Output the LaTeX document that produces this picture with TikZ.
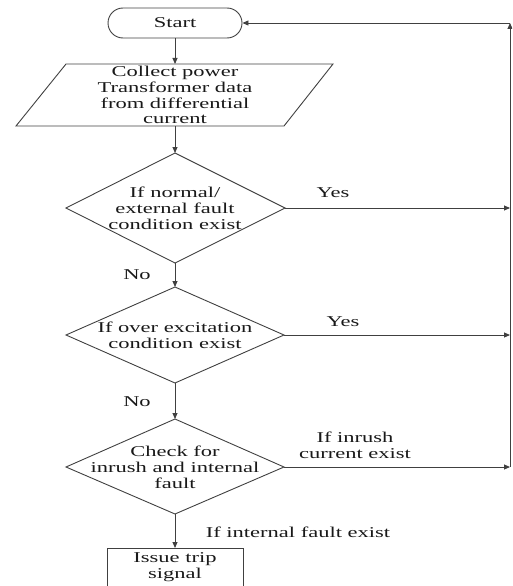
\documentclass[tikz,border=0pt]{standalone}
\usepackage{fontspec}
\setmainfont{Liberation Serif}[FakeStretch=1.5]
\usetikzlibrary{shapes.misc,arrows.meta}
\begin{document}
\begin{tikzpicture}[x=1pt,y=-1pt,
  line/.style={draw=black!75,line width=0.9pt},
  arr/.style={line,-{Triangle[length=6pt,width=5pt]}},
  txt/.style={font=\fontsize{15}{15.8}\selectfont,align=center,inner sep=0pt,text=black!90},
]
\useasboundingbox (0,0) rectangle (512,586);
\clip (0,0) rectangle (512,586);
% start
\node[line,rounded rectangle,minimum width=134pt,minimum height=30pt,txt] (start) at (175,23) {Start};
% parallelogram
\coordinate (ptl) at (66,64);
\coordinate (ptr) at (333,64);
\coordinate (pbr) at (284,126);
\coordinate (pbl) at (16,126);
\coordinate (pt) at (175,64);
\coordinate (pb) at (175,126);
\draw[line] (ptl)--(ptr)--(pbr)--(pbl)--cycle;
\node[txt] (collect) at (175,95) {Collect power\\Transformer data\\from differential\\current};
% diamond 1
\coordinate (d1t) at (175,153);
\coordinate (d1r) at (285,208);
\coordinate (d1b) at (175,263);
\coordinate (d1l) at (66,208);
\draw[line] (d1t)--(d1r)--(d1b)--(d1l)--cycle;
\node[txt] (q1) at (175,208) {If normal/\\external fault\\condition exist};
% diamond 2
\coordinate (d2t) at (175,287);
\coordinate (d2r) at (284,335);
\coordinate (d2b) at (175,383);
\coordinate (d2l) at (66,335);
\draw[line] (d2t)--(d2r)--(d2b)--(d2l)--cycle;
\node[txt] (q2) at (175,335) {If over excitation\\condition exist};
% diamond 3
\coordinate (d3t) at (175,419);
\coordinate (d3r) at (284,467);
\coordinate (d3b) at (175,514);
\coordinate (d3l) at (66,467);
\draw[line] (d3t)--(d3r)--(d3b)--(d3l)--cycle;
\node[txt] (q3) at (175,467) {Check for\\inrush and internal\\fault};
% issue box
\coordinate (ibl) at (107,600);
\coordinate (itl) at (107,548);
\coordinate (itr) at (243,548);
\coordinate (ibr) at (243,600);
\coordinate (it) at (175,548);
\draw[line] (ibl)--(itl)--(itr)--(ibr);
\node[txt] (issue) at (175,567) {Issue trip\\signal};
% right return line
\coordinate (r1) at (510,208);
\coordinate (r2) at (510,335);
\coordinate (r3) at (510,467);
\coordinate (rt) at (510,23);
% connectors
\draw[arr] (start.south) -- (pt);
\draw[arr] (pb) -- (d1t);
\draw[arr] (d1b) -- (d2t);
\draw[arr] (d2b) -- (d3t);
\draw[arr] (d3b) -- (it);
\draw[arr] (d1r) -- (r1);
\draw[arr] (d2r) -- (r2);
\draw[arr] (d3r) -- (r3);
\draw[arr] (r3) -- (rt);
\draw[arr] (rt) -- (start.east);
% labels
\node[txt] (yes1) at (333,193) {Yes};
\node[txt] (yes2) at (343,322) {Yes};
\node[txt] (no1) at (137,275) {No};
\node[txt] (no2) at (137,402) {No};
\node[txt] (inrush) at (355,445) {If inrush\\current exist};
\node[txt] (intf) at (298,532) {If internal fault exist};
\end{tikzpicture}
\end{document}
